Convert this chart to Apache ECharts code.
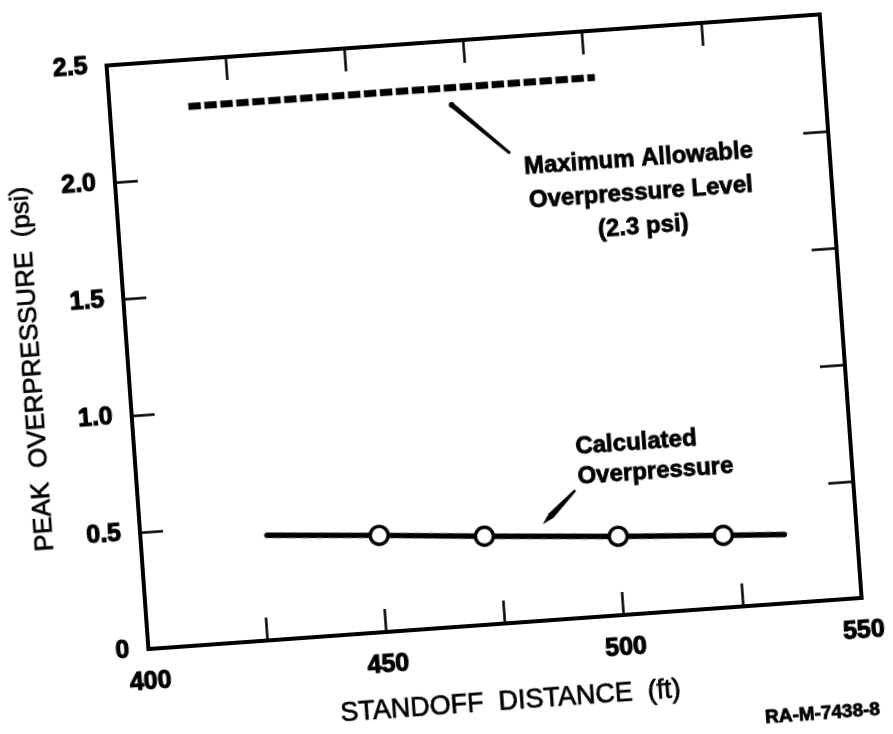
<!DOCTYPE html>
<html>
<head>
<meta charset="utf-8">
<script src="https://cdn.jsdelivr.net/npm/echarts@6/dist/echarts.min.js"></script>
<style>
  html, body { margin: 0; padding: 0; width: 893px; height: 734px; overflow: hidden; background: #fff; }
  /* the figure sits slightly tilted on the page; the canvas is padded so nothing is clipped */
  #chart {
    position: absolute; left: -40px; top: -40px; width: 973px; height: 814px;
    transform-origin: 486.5px 407px; transform: rotate(-4.1deg);
  }
</style>
</head>
<body>
<div id="chart"></div>
<script>
// ---- data ----
const xTickLabels = [400, 450, 500, 550];
const yTickLabels = ['0', '0.5', '1.0', '1.5', '2.0', '2.5'];

// calculated peak overpressure vs standoff distance (ft, psi)
const calcDistance = [426.5, 450, 472, 500, 522, 534.8];
const calcPressure = [0.449, 0.414, 0.378, 0.337, 0.309, 0.294];
const calcMarked   = [false, true, true, true, true, false];

// maximum allowable overpressure level
const limitDistance = [416.5, 502];
const limitPressure = [2.3, 2.3];

const FONT = "'Liberation Sans', Arial, Helvetica, sans-serif";
const INK = '#000';

const chart = echarts.init(document.getElementById('chart'), null, { renderer: 'canvas' });

const axisLineStyle = { color: INK, width: 4, cap: 'square' };
const tickStyle = { color: INK, width: 2.5 };

// heavy print look for the lettering
const heavy = { textBorderColor: INK, textBorderWidth: 1.1 };
const medium = { textBorderColor: INK, textBorderWidth: 0.7 };

const option = {
  animation: false,
  backgroundColor: 'transparent',
  grid: { left: 169, right: 89, top: 82, bottom: 147, containLabel: false },
  xAxis: [
    {
      type: 'value', min: 400, max: 550, interval: 25, position: 'bottom',
      axisLine: { show: true, onZero: false, lineStyle: axisLineStyle },
      axisTick: { show: true, inside: true, length: 23, lineStyle: tickStyle },
      splitLine: { show: false },
      axisLabel: Object.assign({
        formatter: v => (xTickLabels.indexOf(v) >= 0 ? String(v) : ''),
        margin: 33, verticalAlign: 'middle',
        fontSize: 25, fontWeight: 'bold', fontFamily: FONT, color: INK
      }, heavy),
      name: 'STANDOFF  DISTANCE  (ft)', nameLocation: 'middle', nameGap: 79,
      nameTextStyle: Object.assign({ fontSize: 27, fontFamily: FONT, color: INK, verticalAlign: 'middle' }, medium)
    },
    {
      type: 'value', min: 400, max: 550, interval: 25, position: 'top',
      axisLine: { show: true, onZero: false, lineStyle: axisLineStyle },
      axisTick: { show: true, inside: true, length: 23, lineStyle: tickStyle },
      splitLine: { show: false },
      axisLabel: { show: false }
    }
  ],
  yAxis: [
    {
      type: 'value', min: 0, max: 2.5, interval: 0.5, position: 'left',
      axisLine: { show: true, onZero: false, lineStyle: axisLineStyle },
      axisTick: { show: true, inside: true, length: 23, lineStyle: tickStyle },
      splitLine: { show: false },
      axisLabel: Object.assign({
        formatter: v => yTickLabels[Math.round(v / 0.5)],
        margin: 19, padding: [16, 0, 0, 0],
        fontSize: 25, fontWeight: 'bold', fontFamily: FONT, color: INK
      }, heavy),
      name: 'PEAK  OVERPRESSURE  (psi)', nameLocation: 'middle', nameGap: 95,
      nameTextStyle: Object.assign({ fontSize: 26, fontFamily: FONT, color: INK, verticalAlign: 'middle', padding: [0, 10, 0, 0] }, medium)
    },
    {
      type: 'value', min: 0, max: 2.5, interval: 0.5, position: 'right',
      axisLine: { show: true, onZero: false, lineStyle: axisLineStyle },
      axisTick: { show: true, inside: true, length: 25, lineStyle: tickStyle },
      splitLine: { show: false },
      axisLabel: { show: false }
    }
  ],
  series: [
    {
      name: 'Maximum Allowable Overpressure Level',
      type: 'line', xAxisIndex: 0, yAxisIndex: 0,
      data: limitDistance.map((d, i) => [d, limitPressure[i]]),
      symbol: 'none',
      lineStyle: { color: INK, width: 7, type: [12.5, 3.5], cap: 'butt' },
      z: 3
    },
    {
      name: 'Calculated Overpressure',
      type: 'line', xAxisIndex: 0, yAxisIndex: 0,
      data: calcDistance.map((d, i) => ({
        value: [d, calcPressure[i]],
        symbol: calcMarked[i] ? 'circle' : 'none'
      })),
      showAllSymbol: true,
      symbolSize: 18,
      itemStyle: { color: '#fff', borderColor: INK, borderWidth: 3.4 },
      lineStyle: { color: INK, width: 5.5, cap: 'round' },
      z: 4
    }
  ]
};

chart.setOption(option);

// ---- annotations, anchored in data units ----
const px = (x, y) => chart.convertToPixel({ xAxisIndex: 0, yAxisIndex: 0 }, [x, y]);

// tapered leader: widths at start / middle point / end
function leader(a, b, w0, wMid, w1, midT) {
  const p0 = px(a[0], a[1]), p1 = px(b[0], b[1]);
  const dx = p1[0] - p0[0], dy = p1[1] - p0[1];
  const len = Math.hypot(dx, dy);
  const nx = -dy / len, ny = dx / len;
  const q = [p0[0] + dx * midT, p0[1] + dy * midT];
  return [
    [p0[0] + nx * w0 / 2, p0[1] + ny * w0 / 2],
    [q[0] + nx * wMid / 2, q[1] + ny * wMid / 2],
    [p1[0] + nx * w1 / 2, p1[1] + ny * w1 / 2],
    [p1[0] - nx * w1 / 2, p1[1] - ny * w1 / 2],
    [q[0] - nx * wMid / 2, q[1] - ny * wMid / 2],
    [p0[0] - nx * w0 / 2, p0[1] - ny * w0 / 2]
  ];
}

const limitLabelAt = px(509.9, 1.795);
const calcLabelAt = px(492.4, 0.665);
const limitLeaderStart = px(471.6, 2.227);

chart.setOption({
  graphic: [
    {
      type: 'text', z: 10,
      style: {
        text: 'Maximum Allowable\nOverpressure Level\n(2.3 psi)',
        x: limitLabelAt[0], y: limitLabelAt[1],
        align: 'center', verticalAlign: 'middle',
        textAlign: 'center', textVerticalAlign: 'middle',
        font: 'bold 24px ' + FONT, lineHeight: 34, fill: INK,
        stroke: INK, lineWidth: 0.8
      }
    },
    {
      type: 'text', z: 10,
      style: {
        text: 'Calculated\nOverpressure',
        x: calcLabelAt[0], y: calcLabelAt[1],
        align: 'left', verticalAlign: 'middle',
        textAlign: 'left', textVerticalAlign: 'middle',
        font: 'bold 24px ' + FONT, lineHeight: 30, fill: INK,
        stroke: INK, lineWidth: 0.8
      }
    },
    {
      type: 'polygon', z: 10,
      shape: { points: leader([471.6, 2.227], [483.1, 2.003], 5, 4, 3, 0.5) },
      style: { fill: INK }
    },
    {
      type: 'circle', z: 10,
      shape: { cx: limitLeaderStart[0], cy: limitLeaderStart[1], r: 2.8 },
      style: { fill: INK }
    },
    {
      type: 'polygon', z: 10,
      shape: { points: leader([491.7, 0.546], [484.5, 0.413], 2.4, 6.5, 0.5, 0.75) },
      style: { fill: INK }
    },
    {
      type: 'text', z: 10,
      style: {
        text: 'RA-M-7438-8',
        x: 836.8, y: 779.3,
        align: 'center', verticalAlign: 'middle',
        textAlign: 'center', textVerticalAlign: 'middle',
        font: 'bold 19px ' + FONT, fill: INK,
        stroke: INK, lineWidth: 0.8
      }
    }
  ]
});
</script>
</body>
</html>
